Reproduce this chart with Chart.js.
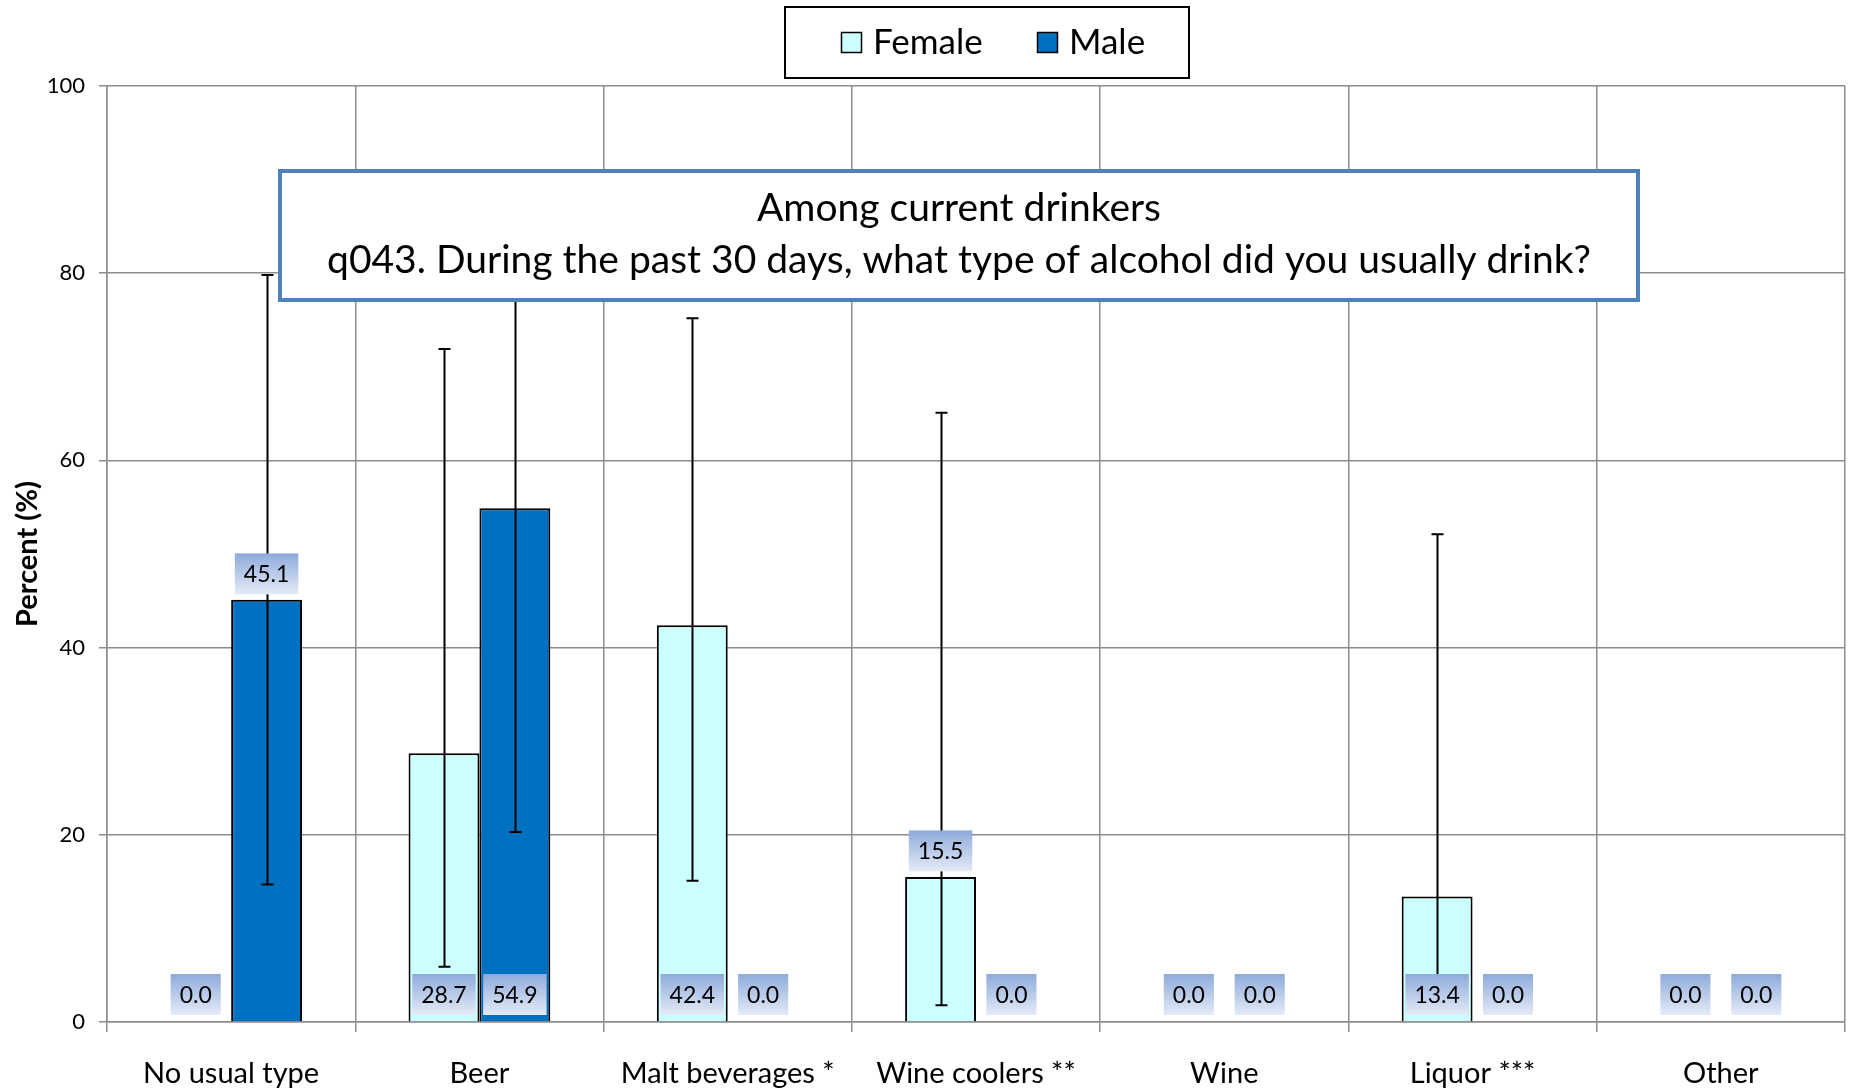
<!DOCTYPE html>
<html>
<head>
<meta charset="utf-8">
<script src="https://cdn.jsdelivr.net/npm/chart.js@4.4.0/dist/chart.umd.min.js"></script>
<style>
html,body{margin:0;padding:0;background:#fff;}
#wrap{width:1851px;height:1089px;}
</style>
</head>
<body>
<div id="wrap"><canvas id="c" width="1851" height="1089"></canvas></div>
<script>
const categories = ['No usual type', 'Beer', 'Malt beverages *', 'Wine coolers **', 'Wine', 'Liquor ***', 'Other'];
const seriesNames = ['Female', 'Male'];
const femaleValues = [0.0, 28.7, 42.4, 15.5, 0.0, 13.4, 0.0];
const maleValues = [45.1, 54.9, 0.0, 0.0, 0.0, 0.0, 0.0];
const femaleLower = [null, 5.9, 15.1, 1.8, null, 2.5, null];
const femaleUpper = [null, 71.9, 75.2, 65.1, null, 52.1, null];
const maleLower = [14.7, 20.3, null, null, null, null, null];
const maleUpper = [79.8, 86.0, null, null, null, null, null];
const yTicks = [0, 20, 40, 60, 80, 100];
const titleLines = ['Among current drinkers', 'q043. During the past 30 days, what type of alcohol did you usually drink?'];

const FONT = 'Lato, "Open Sans", sans-serif';
const femaleColor = '#ccffff';
const maleColor = '#0070c0';

// which labels sit above the bar end (rest sit at the bar base)
const labelAbove = { '1:0': true, '0:3': true };

const errorBarPlugin = {
  id: 'errorBars',
  afterDatasetsDraw(chart) {
    const ctx = chart.ctx;
    const y = chart.scales.y;
    const sets = [[femaleLower, femaleUpper], [maleLower, maleUpper]];
    ctx.save();
    ctx.strokeStyle = '#000';
    ctx.lineWidth = 2;
    sets.forEach((s, di) => {
      const meta = chart.getDatasetMeta(di);
      meta.data.forEach((bar, i) => {
        if (s[0][i] == null) return;
        const x = Math.round(bar.x) + 0.5;
        const y1 = y.getPixelForValue(s[1][i]);
        const y0 = y.getPixelForValue(s[0][i]);
        ctx.beginPath();
        ctx.moveTo(x, y1); ctx.lineTo(x, y0);
        ctx.moveTo(x - 6, y1); ctx.lineTo(x + 6, y1);
        ctx.moveTo(x - 6, y0); ctx.lineTo(x + 6, y0);
        ctx.stroke();
      });
    });
    ctx.restore();
  }
};

const labelPlugin = {
  id: 'valueLabels',
  afterDatasetsDraw(chart) {
    const ctx = chart.ctx;
    const y = chart.scales.y;
    ctx.save();
    ctx.font = '23px ' + FONT;
    ctx.textAlign = 'center';
    ctx.textBaseline = 'middle';
    chart.data.datasets.forEach((ds, di) => {
      const meta = chart.getDatasetMeta(di);
      meta.data.forEach((bar, i) => {
        const v = ds.data[i];
        const txt = v.toFixed(1);
        const w = ctx.measureText(txt).width + 18;
        const h = 41;
        let cy;
        if (labelAbove[di + ':' + i]) {
          cy = y.getPixelForValue(v) - 26;
        } else {
          cy = y.getPixelForValue(0) - 7 - h / 2;
        }
        const x0 = bar.x - w / 2, y0 = cy - h / 2;
        const g = ctx.createLinearGradient(0, y0, 0, y0 + h);
        g.addColorStop(0, '#8eaadb');
        g.addColorStop(1, '#e4ebf7');
        ctx.fillStyle = g;
        ctx.fillRect(x0, y0, w, h);
        ctx.fillStyle = '#000';
        ctx.fillText(txt, bar.x, cy + 1);
      });
    });
    ctx.restore();
  }
};

const overlayPlugin = {
  id: 'overlay',
  afterDraw(chart) {
    const ctx = chart.ctx;
    ctx.save();
    // title box
    const bx = 280, by = 171, bw = 1358, bh = 129;
    ctx.fillStyle = '#fff';
    ctx.fillRect(bx, by, bw, bh);
    ctx.strokeStyle = '#4f81bd';
    ctx.lineWidth = 4;
    ctx.strokeRect(bx, by, bw, bh);
    ctx.fillStyle = '#000';
    ctx.font = '39px ' + FONT;
    ctx.textAlign = 'center';
    ctx.textBaseline = 'middle';
    ctx.fillText(titleLines[0], bx + bw / 2, 208);
    ctx.fillText(titleLines[1], bx + bw / 2, 260);
    // legend
    ctx.fillStyle = '#fff';
    ctx.fillRect(785, 7, 404, 71);
    ctx.strokeStyle = '#000';
    ctx.lineWidth = 2;
    ctx.strokeRect(785, 7, 404, 71);
    ctx.font = '35px ' + FONT;
    ctx.textAlign = 'left';
    const items = [[841, 873], [1037, 1069]];
    chart.data.datasets.forEach((ds, di) => {
      const [sx, tx] = items[di];
      ctx.fillStyle = ds.backgroundColor;
      ctx.fillRect(sx, 32, 21, 21);
      ctx.lineWidth = 1.5;
      ctx.strokeStyle = '#000';
      ctx.strokeRect(sx + 0.5, 32.5, 20, 20);
      ctx.fillStyle = '#000';
      ctx.fillText(ds.label, tx, 43);
    });
    ctx.restore();
  }
};

new Chart(document.getElementById('c'), {
  type: 'bar',
  data: {
    labels: categories,
    datasets: [
      { label: seriesNames[0], data: femaleValues, backgroundColor: femaleColor, borderColor: '#000', borderWidth: 2, borderSkipped: 'bottom' },
      { label: seriesNames[1], data: maleValues, backgroundColor: maleColor, borderColor: '#000', borderWidth: 2, borderSkipped: 'bottom' }
    ]
  },
  options: {
    responsive: false,
    animation: false,
    devicePixelRatio: 1,
    layout: { padding: { top: 86, right: 6, left: 0, bottom: 0 } },
    plugins: { legend: { display: false }, tooltip: { enabled: false }, title: { display: false } },
    datasets: { bar: { barPercentage: 1.0, categoryPercentage: 0.571 } },
    scales: {
      x: {
        afterFit(s) { s.height = 67; },
        grid: { offset: true, color: '#8c8c8c', lineWidth: 1.5, tickLength: 10, drawTicks: true },
        border: { color: '#8c8c8c', width: 1.5 },
        ticks: { color: '#000', font: { family: FONT, size: 29 }, padding: 24, maxRotation: 0, autoSkip: false }
      },
      y: {
        min: 0, max: 100,
        afterFit(s) { s.width = 107; },
        afterBuildTicks(s) { s.ticks = yTicks.map(v => ({ value: v })); },
        grid: { color: '#8c8c8c', lineWidth: 1.5, tickLength: 8 },
        border: { color: '#8c8c8c', width: 1.5 },
        ticks: { color: '#000', font: { family: FONT, size: 22 }, padding: 14 },
        title: { display: true, text: 'Percent (%)', color: '#000', font: { family: FONT, size: 29, weight: 'bold' }, padding: { top: 10, bottom: 0 } }
      }
    }
  },
  plugins: [errorBarPlugin, labelPlugin, overlayPlugin]
});
</script>
</body>
</html>
